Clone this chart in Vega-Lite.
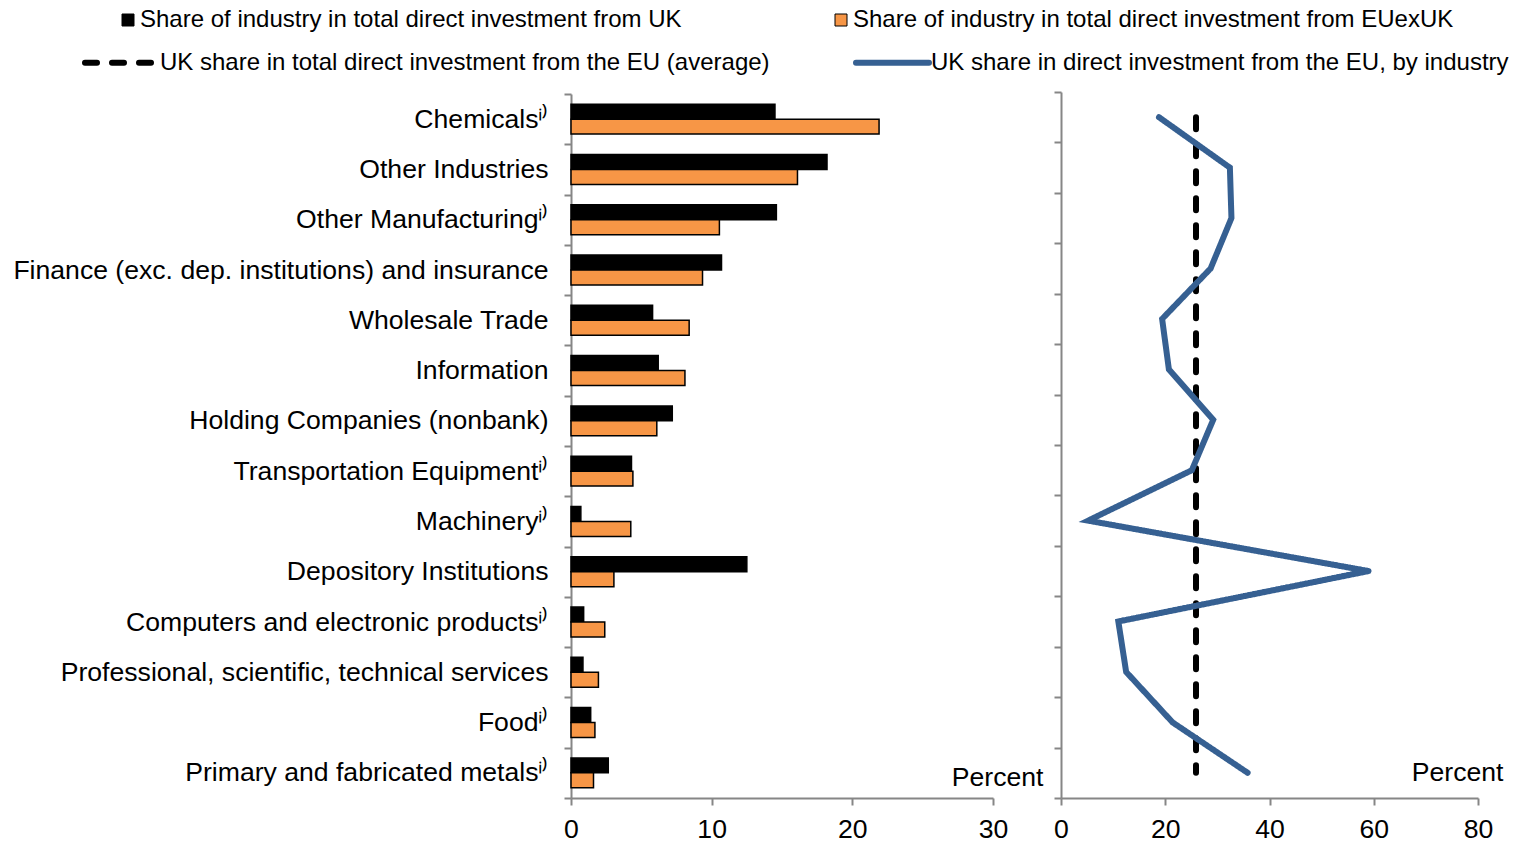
{
  "$schema": "https://vega.github.io/schema/vega-lite/v6.json",
  "autosize": {"type": "none"},
  "padding": {"left": 571, "top": 92, "right": 947, "bottom": 749},
  "bounds": "flush",
  "spacing": 68,
  "config": {
    "font": "Liberation Sans",
    "view": {"stroke": null},
    "axis": {
      "domainColor": "#868686", "tickColor": "#868686", "domainWidth": 2, "tickWidth": 2, "tickSize": 7,
      "labelColor": "#000000", "labelFontSize": 26.6, "labelFont": "Liberation Sans", "grid": false,
      "titleFontSize": 26.6, "titleFontWeight": "normal", "titleColor": "#000000", "titleFont": "Liberation Sans"
    },
    "legend": {"padding": 0, "labelFont": "Liberation Sans", "labelFontSize": 24, "labelColor": "#000000", "labelLimit": 800}
  },
  "datasets": {
    "bars": [
      {"industry": "Chemicalsⁱ⁾", "rank": 1, "bar_series": "Share of industry in total direct investment from UK", "value": 14.5},
      {"industry": "Chemicalsⁱ⁾", "rank": 1, "bar_series": "Share of industry in total direct investment from EUexUK", "value": 21.9},
      {"industry": "Other Industries", "rank": 2, "bar_series": "Share of industry in total direct investment from UK", "value": 18.2},
      {"industry": "Other Industries", "rank": 2, "bar_series": "Share of industry in total direct investment from EUexUK", "value": 16.1},
      {"industry": "Other Manufacturingⁱ⁾", "rank": 3, "bar_series": "Share of industry in total direct investment from UK", "value": 14.6},
      {"industry": "Other Manufacturingⁱ⁾", "rank": 3, "bar_series": "Share of industry in total direct investment from EUexUK", "value": 10.55},
      {"industry": "Finance (exc. dep. institutions) and insurance", "rank": 4, "bar_series": "Share of industry in total direct investment from UK", "value": 10.7},
      {"industry": "Finance (exc. dep. institutions) and insurance", "rank": 4, "bar_series": "Share of industry in total direct investment from EUexUK", "value": 9.35},
      {"industry": "Wholesale Trade", "rank": 5, "bar_series": "Share of industry in total direct investment from UK", "value": 5.8},
      {"industry": "Wholesale Trade", "rank": 5, "bar_series": "Share of industry in total direct investment from EUexUK", "value": 8.4},
      {"industry": "Information", "rank": 6, "bar_series": "Share of industry in total direct investment from UK", "value": 6.2},
      {"industry": "Information", "rank": 6, "bar_series": "Share of industry in total direct investment from EUexUK", "value": 8.1},
      {"industry": "Holding Companies (nonbank)", "rank": 7, "bar_series": "Share of industry in total direct investment from UK", "value": 7.2},
      {"industry": "Holding Companies (nonbank)", "rank": 7, "bar_series": "Share of industry in total direct investment from EUexUK", "value": 6.1},
      {"industry": "Transportation Equipmentⁱ⁾", "rank": 8, "bar_series": "Share of industry in total direct investment from UK", "value": 4.3},
      {"industry": "Transportation Equipmentⁱ⁾", "rank": 8, "bar_series": "Share of industry in total direct investment from EUexUK", "value": 4.4},
      {"industry": "Machineryⁱ⁾", "rank": 9, "bar_series": "Share of industry in total direct investment from UK", "value": 0.7},
      {"industry": "Machineryⁱ⁾", "rank": 9, "bar_series": "Share of industry in total direct investment from EUexUK", "value": 4.25},
      {"industry": "Depository Institutions", "rank": 10, "bar_series": "Share of industry in total direct investment from UK", "value": 12.5},
      {"industry": "Depository Institutions", "rank": 10, "bar_series": "Share of industry in total direct investment from EUexUK", "value": 3.05},
      {"industry": "Computers and electronic productsⁱ⁾", "rank": 11, "bar_series": "Share of industry in total direct investment from UK", "value": 0.9},
      {"industry": "Computers and electronic productsⁱ⁾", "rank": 11, "bar_series": "Share of industry in total direct investment from EUexUK", "value": 2.4},
      {"industry": "Professional, scientific, technical services", "rank": 12, "bar_series": "Share of industry in total direct investment from UK", "value": 0.85},
      {"industry": "Professional, scientific, technical services", "rank": 12, "bar_series": "Share of industry in total direct investment from EUexUK", "value": 1.95},
      {"industry": "Foodⁱ⁾", "rank": 13, "bar_series": "Share of industry in total direct investment from UK", "value": 1.4},
      {"industry": "Foodⁱ⁾", "rank": 13, "bar_series": "Share of industry in total direct investment from EUexUK", "value": 1.7},
      {"industry": "Primary and fabricated metalsⁱ⁾", "rank": 14, "bar_series": "Share of industry in total direct investment from UK", "value": 2.65},
      {"industry": "Primary and fabricated metalsⁱ⁾", "rank": 14, "bar_series": "Share of industry in total direct investment from EUexUK", "value": 1.6}
    ],
    "lines": [
      {"industry": "Chemicalsⁱ⁾", "rank": 1, "line_series": "UK share in total direct investment from the EU (average)", "value": 25.9},
      {"industry": "Other Industries", "rank": 2, "line_series": "UK share in total direct investment from the EU (average)", "value": 25.9},
      {"industry": "Other Manufacturingⁱ⁾", "rank": 3, "line_series": "UK share in total direct investment from the EU (average)", "value": 25.9},
      {"industry": "Finance (exc. dep. institutions) and insurance", "rank": 4, "line_series": "UK share in total direct investment from the EU (average)", "value": 25.9},
      {"industry": "Wholesale Trade", "rank": 5, "line_series": "UK share in total direct investment from the EU (average)", "value": 25.9},
      {"industry": "Information", "rank": 6, "line_series": "UK share in total direct investment from the EU (average)", "value": 25.9},
      {"industry": "Holding Companies (nonbank)", "rank": 7, "line_series": "UK share in total direct investment from the EU (average)", "value": 25.9},
      {"industry": "Transportation Equipmentⁱ⁾", "rank": 8, "line_series": "UK share in total direct investment from the EU (average)", "value": 25.9},
      {"industry": "Machineryⁱ⁾", "rank": 9, "line_series": "UK share in total direct investment from the EU (average)", "value": 25.9},
      {"industry": "Depository Institutions", "rank": 10, "line_series": "UK share in total direct investment from the EU (average)", "value": 25.9},
      {"industry": "Computers and electronic productsⁱ⁾", "rank": 11, "line_series": "UK share in total direct investment from the EU (average)", "value": 25.9},
      {"industry": "Professional, scientific, technical services", "rank": 12, "line_series": "UK share in total direct investment from the EU (average)", "value": 25.9},
      {"industry": "Foodⁱ⁾", "rank": 13, "line_series": "UK share in total direct investment from the EU (average)", "value": 25.9},
      {"industry": "Primary and fabricated metalsⁱ⁾", "rank": 14, "line_series": "UK share in total direct investment from the EU (average)", "value": 25.9},
      {"industry": "Chemicalsⁱ⁾", "rank": 1, "line_series": "UK share in direct investment from the EU, by industry", "value": 18.8},
      {"industry": "Other Industries", "rank": 2, "line_series": "UK share in direct investment from the EU, by industry", "value": 32.4},
      {"industry": "Other Manufacturingⁱ⁾", "rank": 3, "line_series": "UK share in direct investment from the EU, by industry", "value": 32.7},
      {"industry": "Finance (exc. dep. institutions) and insurance", "rank": 4, "line_series": "UK share in direct investment from the EU, by industry", "value": 28.7},
      {"industry": "Wholesale Trade", "rank": 5, "line_series": "UK share in direct investment from the EU, by industry", "value": 19.4},
      {"industry": "Information", "rank": 6, "line_series": "UK share in direct investment from the EU, by industry", "value": 20.7},
      {"industry": "Holding Companies (nonbank)", "rank": 7, "line_series": "UK share in direct investment from the EU, by industry", "value": 29.2},
      {"industry": "Transportation Equipmentⁱ⁾", "rank": 8, "line_series": "UK share in direct investment from the EU, by industry", "value": 25.1},
      {"industry": "Machineryⁱ⁾", "rank": 9, "line_series": "UK share in direct investment from the EU, by industry", "value": 5.2},
      {"industry": "Depository Institutions", "rank": 10, "line_series": "UK share in direct investment from the EU, by industry", "value": 59.0},
      {"industry": "Computers and electronic productsⁱ⁾", "rank": 11, "line_series": "UK share in direct investment from the EU, by industry", "value": 11.0},
      {"industry": "Professional, scientific, technical services", "rank": 12, "line_series": "UK share in direct investment from the EU, by industry", "value": 12.5},
      {"industry": "Foodⁱ⁾", "rank": 13, "line_series": "UK share in direct investment from the EU, by industry", "value": 21.4},
      {"industry": "Primary and fabricated metalsⁱ⁾", "rank": 14, "line_series": "UK share in direct investment from the EU, by industry", "value": 35.8}
    ]
  },
  "resolve": {"scale": {"y": "independent"}},
  "hconcat": [
    {
      "width": 422,
      "height": 706,
      "data": {"name": "bars"},
      "mark": {"type": "bar", "stroke": "#000000", "strokeWidth": 1.5},
      "encoding": {
        "y": {
          "field": "industry", "type": "nominal",
          "sort": {"field": "rank", "op": "min", "order": "ascending"},
          "scale": {"paddingInner": 0, "paddingOuter": 0, "range": [2, 706]},
          "axis": {"title": null, "tickBand": "extent", "labelPadding": 16, "labelLimit": 700}
        },
        "yOffset": {
          "field": "bar_series", "type": "nominal",
          "sort": ["Share of industry in total direct investment from UK", "Share of industry in total direct investment from EUexUK"],
          "scale": {"paddingInner": 0, "paddingOuter": 0.68}
        },
        "x": {
          "field": "value", "type": "quantitative",
          "scale": {"domain": [0, 30], "nice": false},
          "axis": {
            "values": [0, 10, 20, 30], "labelFlush": false, "labelPadding": 11,
            "title": "Percent", "titleX": 472, "titleY": -13, "titleAlign": "right", "titleBaseline": "alphabetic", "titleAnchor": null
          }
        },
        "fill": {
          "field": "bar_series", "type": "nominal",
          "scale": {
            "domain": ["Share of industry in total direct investment from UK", "Share of industry in total direct investment from EUexUK"],
            "range": ["#000000", "#F79646"]
          },
          "legend": {
            "orient": "none", "legendX": -455, "legendY": -84, "direction": "horizontal", "title": null,
            "symbolType": "square", "symbolSize": 144, "symbolStrokeColor": "#000000", "symbolStrokeWidth": 1,
            "labelOffset": 0, "columnPadding": 147
          }
        }
      }
    },
    {
      "width": 417,
      "height": 706,
      "data": {"name": "lines"},
      "mark": {"type": "line", "strokeWidth": 6, "strokeCap": "round"},
      "encoding": {
        "y": {
          "field": "industry", "type": "nominal",
          "sort": {"field": "rank", "op": "min", "order": "ascending"},
          "scale": {"paddingInner": 0, "paddingOuter": 0},
          "axis": {"title": null, "labels": false, "tickBand": "extent"}
        },
        "x": {
          "field": "value", "type": "quantitative",
          "scale": {"domain": [0, 80], "nice": false},
          "axis": {
            "values": [0, 20, 40, 60, 80], "labelFlush": false, "labelPadding": 11,
            "title": "Percent", "titleX": 442, "titleY": -18, "titleAlign": "right", "titleBaseline": "alphabetic", "titleAnchor": null
          }
        },
        "order": {"field": "rank", "type": "quantitative"},
        "stroke": {
          "field": "line_series", "type": "nominal",
          "scale": {
            "domain": ["UK share in total direct investment from the EU (average)", "UK share in direct investment from the EU, by industry"],
            "range": ["#000000", "#366092"]
          },
          "legend": {
            "orient": "none", "legendX": -489, "legendY": -69, "direction": "horizontal", "title": null,
            "symbolType": "stroke", "symbolSize": 5329, "symbolStrokeWidth": 6,
            "labelOffset": -1, "columnPadding": 74,
            "encode": {"symbols": {"update": {"strokeCap": {"value": "round"}}}}
          }
        },
        "strokeDash": {
          "field": "line_series", "type": "nominal",
          "scale": {
            "domain": ["UK share in total direct investment from the EU (average)", "UK share in direct investment from the EU, by industry"],
            "range": [[12, 15], [1, 0]]
          },
          "legend": {
            "orient": "none", "legendX": -489, "legendY": -69, "direction": "horizontal", "title": null,
            "symbolType": "stroke", "symbolSize": 5329, "symbolStrokeWidth": 6,
            "labelOffset": -1, "columnPadding": 74,
            "encode": {"symbols": {"update": {"strokeCap": {"value": "round"}}}}
          }
        }
      }
    }
  ]
}
